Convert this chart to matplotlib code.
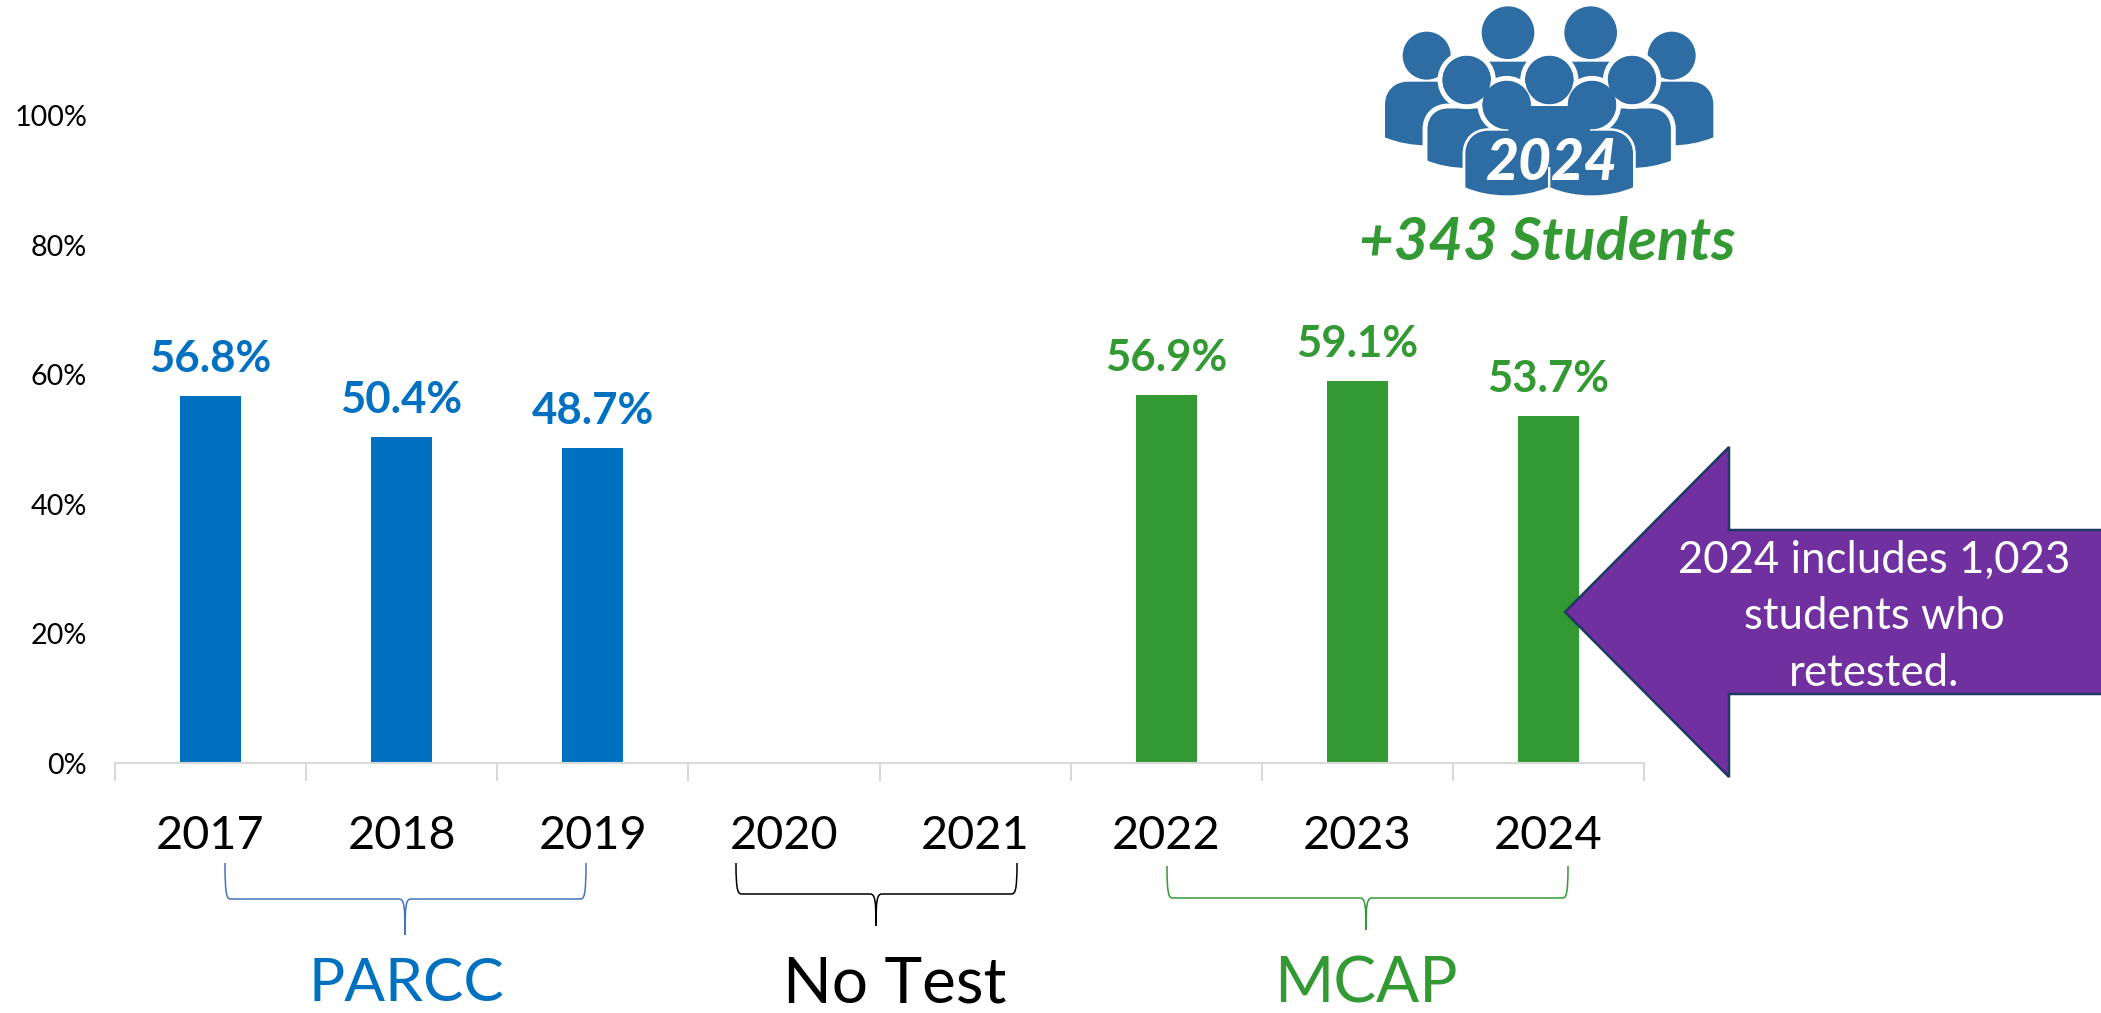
import matplotlib
matplotlib.use("Agg")
import matplotlib.pyplot as plt
from matplotlib.path import Path
from matplotlib.patches import PathPatch, Circle, Polygon

plt.rcParams['font.family'] = ['Lato', 'DejaVu Sans']

years = ['2017', '2018', '2019', '2020', '2021', '2022', '2023', '2024']
values = [56.8, 50.4, 48.7, None, None, 56.9, 59.1, 53.7]
labels = ['56.8%', '50.4%', '48.7%', None, None, '56.9%', '59.1%', '53.7%']
y_ticks = [0, 20, 40, 60, 80, 100]
groups = ['PARCC', 'No Test', 'MCAP']

BLUE = '#0070C0'
GREEN = '#339933'
ICON = '#2E6DA4'
PURPLE = '#7030A0'
W, H = 2101, 1013
colors = [BLUE] * 3 + [BLUE] * 2 + [GREEN] * 3

fig = plt.figure(figsize=(W / 100, H / 100), dpi=100, facecolor='white')
base = 763
ax = fig.add_axes([115 / W, (H - base) / H, (1644 - 115) / W, base / H])
ax.set_xlim(-0.5, 7.5)
ax.set_ylim(0, base / 6.47)
for i, (v, c, l) in enumerate(zip(values, colors, labels)):
    if v is None:
        continue
    ax.bar(i, v, width=0.32, color=c, zorder=2)
    ax.annotate(l, (i, v), xytext=(0, 12), textcoords='offset points', ha='center', va='bottom',
                color=c, fontsize=31.5, fontweight='bold')
for s in ['top', 'right', 'left']:
    ax.spines[s].set_visible(False)
ax.spines['bottom'].set_color('#D9D9D9')
ax.spines['bottom'].set_linewidth(1.5)
ax.set_yticks(y_ticks)
ax.set_yticklabels([f'{t}%' for t in y_ticks], fontsize=20.7)
ax.tick_params(axis='y', length=0, pad=20)
ax.set_xticks(range(len(years)))
ax.set_xticklabels(years, fontsize=33.7)
ax.tick_params(axis='x', which='major', length=0, pad=37.2)
ax.set_xticks([i - 0.5 for i in range(len(years) + 1)], minor=True)
ax.tick_params(axis='x', which='minor', length=13, width=1.5, color='#D9D9D9')
ax.patch.set_alpha(0)

# overlay in figure pixels for the annotations
ov = fig.add_axes([0, 0, 1, 1], zorder=5)
ov.set_xlim(0, W)
ov.set_ylim(H, 0)
ov.axis('off')


def brace(x0, x1, xm, y0, y1, y2, color):
    v = [(x0, y0), (x0, y1 - 2), (x0 + 2, y1), (x0 + 6, y1),
         (xm - 6, y1), (xm - 1, y1), (xm, y1 + 6), (xm, y2),
         (xm, y1 + 6), (xm + 1, y1), (xm + 6, y1),
         (x1 - 6, y1), (x1 - 2, y1), (x1, y1 - 2), (x1, y0)]
    c = [Path.MOVETO, Path.CURVE4, Path.CURVE4, Path.CURVE4,
         Path.LINETO, Path.CURVE4, Path.CURVE4, Path.CURVE4,
         Path.CURVE4, Path.CURVE4, Path.CURVE4,
         Path.LINETO, Path.CURVE4, Path.CURVE4, Path.CURVE4]
    ov.add_patch(PathPatch(Path(v, c), fc='none', ec=color, lw=1.1))


brace(225, 586, 405, 863, 899, 935, '#4472C4')
brace(736, 1017, 876, 863, 894, 926, 'black')
brace(1167, 1568, 1366, 866, 898, 930, GREEN)
for name, x, c, fs in zip(groups, [406, 895, 1366], [BLUE, 'black', GREEN], [43.5, 46, 46]):
    ov.text(x, 984, name, ha='center', va='center', fontsize=fs, color=c)

# arrow
ov.add_patch(Polygon([(1565, 612), (1729, 447), (1729, 530), (2110, 530), (2110, 694), (1729, 694), (1729, 777)],
                     closed=True, fc=PURPLE, ec='#1F3864', lw=1.8, joinstyle='miter', clip_on=True))
for t, y in zip(['2024 includes 1,023', 'students who', 'retested.'], [560, 616, 673]):
    ov.text(1874, y, t, ha='center', va='center', color='white', fontsize=31.5)


# people icon: coordinates in the zoom frame (3x, offset 1340,0)
def P(x, y):
    return 1340 + x / 3, y / 3


def body(x0, x1, y0, y1, dip=23, r=70, ec='white', lw=3.5):
    cx = (x0 + x1) / 2
    pts = [(x0, y1 - dip), (x0, y0 + r), (x0, y0 + r * .4), (x0 + r * .4, y0), (x0 + r, y0), (x1 - r, y0),
           (x1 - r * .4, y0), (x1, y0 + r * .4), (x1, y0 + r), (x1, y1 - dip),
           (cx + 50, y1 + dip * .4), (cx - 50, y1 + dip * .4), (x0, y1 - dip)]
    c = [Path.MOVETO, Path.LINETO, Path.CURVE4, Path.CURVE4, Path.CURVE4, Path.LINETO,
         Path.CURVE4, Path.CURVE4, Path.CURVE4, Path.LINETO, Path.CURVE4, Path.CURVE4, Path.CURVE4]
    ov.add_patch(PathPatch(Path([P(*p) for p in pts], c), fc=ICON, ec=ec, lw=lw))


def head(x, y, r, ec='white', lw=3.5):
    ov.add_patch(Circle(P(x, y), r / 3, fc=ICON, ec=ec, lw=lw))


for x0, hx in [(400, 504), (650, 752)]:
    body(x0, x0 + 210, 185, 300, dip=0, r=40, lw=0)
    head(hx, 98, 79, lw=0)
for x0, hx in [(135, 260), (865, 995)]:
    body(x0, x0 + 255, 245, 435, lw=0)
    head(hx, 167, 72, lw=0)
for x0, hx in [(255, 380), (745, 876)]:
    body(x0, x0 + 255, 318, 510)
    head(hx, 240, 80)
head(628, 240, 80)
for x0, hx in [(375, 500), (630, 756)]:
    body(x0, x0 + 250, 392, 585)
    head(hx, 315, 80)
# merged fills of the front group
body(505, 750, 318, 500, ec='none', lw=0)
head(628, 240, 72, ec='none', lw=0)
for x0, hx in [(375, 500), (630, 756)]:
    body(x0 + 1, x0 + 249, 392, 585, ec='none', lw=0)
    head(hx, 315, 72, ec='none', lw=0)
head(380, 240, 72, ec='none', lw=0)
head(876, 240, 72, ec='none', lw=0)
x, y = P(632, 490)
ov.text(x, y, '2024', ha='center', va='center', color='white', fontsize=41, fontweight='black', fontstyle='italic')
x, y = P(622, 729)
ov.text(x, y, '+343 Students', ha='center', va='center', color=GREEN, fontsize=43, fontweight='bold', fontstyle='italic')

fig.savefig('out.png', dpi=100, facecolor='white')
